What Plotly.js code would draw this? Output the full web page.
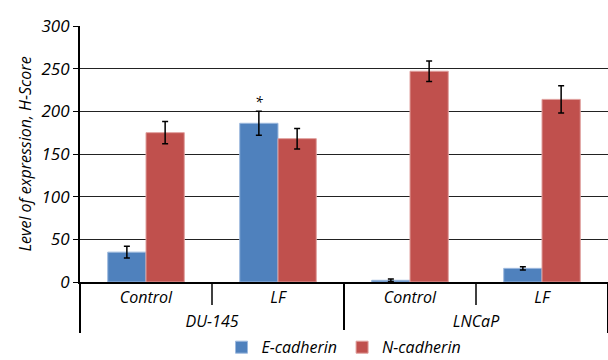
<!DOCTYPE html>
<html><head><meta charset="utf-8">
<script src="https://cdn.plot.ly/plotly-3.0.1.min.js"></script>
<style>body{margin:0;background:#fff}#c{width:608px;height:360px}</style>
</head><body><div id="c"></div>
<script>
const cellLines = ["DU-145","DU-145","LNCaP","LNCaP"];
const treatments = ["Control","LF","Control","LF"];
const eCadherin = [35, 186, 2, 16];
const eCadherinErr = [7, 14, 1.5, 2];
const nCadherin = [175, 168, 247, 214];
const nCadherinErr = [13, 12, 12, 16];
const seriesNames = ["E-cadherin","N-cadherin"];
const font = "Open Sans, sans-serif";
const traces = [
  {type:"bar", name:seriesNames[0], x:[cellLines,treatments], y:eCadherin,
   marker:{color:"#4F81BD", line:{color:"#9DB9DE", width:1}},
   error_y:{type:"data", array:eCadherinErr, visible:true, color:"#000", thickness:1.5, width:3}},
  {type:"bar", name:seriesNames[1], x:[cellLines,treatments], y:nCadherin,
   marker:{color:"#C0504D", line:{color:"#E0A09E", width:1}},
   error_y:{type:"data", array:nCadherinErr, visible:true, color:"#000", thickness:1.5, width:3}}
];
const layout = {
  width:608, height:360,
  margin:{l:80, r:0, t:26, b:78, autoexpand:false},
  paper_bgcolor:"#fff", plot_bgcolor:"#fff",
  barmode:"group", bargap:0.42, bargroupgap:0,
  font:{family:font, color:"#000", size:16, style:"italic"},
  xaxis:{type:"multicategory", showline:true, linecolor:"#000", linewidth:2,
    showdividers:true, dividercolor:"#000", dividerwidth:1.5,
    tickfont:{family:font, size:16, style:"italic"}, ticks:""},
  yaxis:{range:[0,300], dtick:50, showgrid:true, gridcolor:"#222", gridwidth:1.2,
    showline:true, linecolor:"#000", linewidth:2, ticks:"outside", ticklen:5, tickcolor:"#000",
    zeroline:false,
    tickfont:{family:font, size:17, style:"italic"},
    title:{text:"Level of expression, H-Score", font:{family:font, size:16, style:"italic"}, standoff:6}},
  legend:{orientation:"h", x:0.5, xanchor:"center", y:-0.255, yanchor:"middle",
    font:{family:font, size:16, style:"italic"}, itemwidth:30},
  annotations:[{xref:"x", yref:"y", x:0.855, y:212, text:"*", showarrow:false, font:{family:font,size:14}}],
  shapes:[
    {type:"line", xref:"x", yref:"paper", x0:0.5, x1:0.5, y0:0, y1:-0.09, line:{color:"#000", width:1.5}},
    {type:"line", xref:"x", yref:"paper", x0:2.5, x1:2.5, y0:0, y1:-0.09, line:{color:"#000", width:1.5}}
  ],
  showlegend:true
};
Plotly.newPlot("c", traces, layout, {displayModeBar:false});
</script></body></html>
